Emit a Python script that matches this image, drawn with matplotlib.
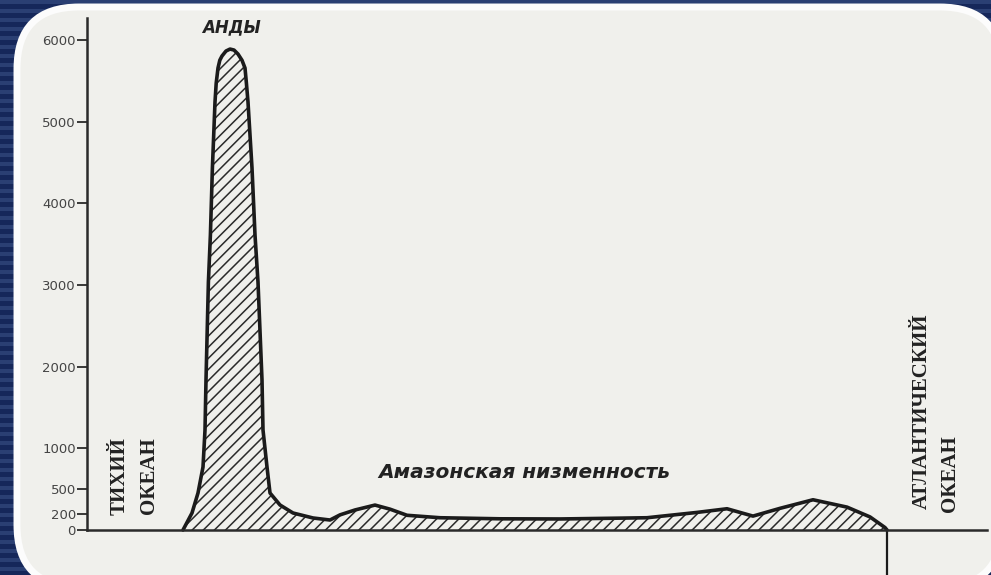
import numpy as np
import matplotlib
matplotlib.use("Agg")
import matplotlib.pyplot as plt
from matplotlib.patches import FancyBboxPatch, Rectangle

# ---- data (distance along profile, km-ish units; elevation, m) ----
dist = [480, 525, 555, 580, 590, 595, 607, 617, 627, 640, 646, 655, 664, 675, 695, 715,
        735, 755, 775, 790, 797, 805, 825, 840, 855, 875, 880, 900, 915, 965, 1030, 1130,
        1215, 1265, 1340, 1440, 1515, 1600, 1765, 2065, 2365, 2665, 2800, 3050,
        3200, 3330, 3465, 3630, 3800, 3915, 3990, 4000]
elev = [0, 208, 453, 771, 1224, 1836, 3035, 3611, 4431, 5239, 5470, 5655, 5750, 5802,
        5863, 5887, 5875, 5826, 5750, 5655, 5470, 5239, 4431, 3611, 3035, 1836, 1224,
        771, 453, 306, 208, 147,
        122, 185, 245, 305, 255, 180, 150, 137, 135, 145, 150, 215,
        260, 170, 265, 370, 280, 160, 30, 0]

yticks = [0, 200, 500, 1000, 2000, 3000, 4000, 5000, 6000]
ytick_labels = ["0", "200", "500", "1000", "2000", "3000", "4000", "5000", "6000"]

W, H = 991, 575
fig = plt.figure(figsize=(W / 100, H / 100), dpi=100)
fig.patch.set_facecolor("#15275a")

# ---- background: striped navy + rounded paper panel ----
bg = fig.add_axes([0, 0, 1, 1], zorder=0)
bg.set_xlim(0, W)
bg.set_ylim(H, 0)
bg.axis("off")
for yy in np.arange(0, H, 9):
    bg.add_patch(Rectangle((0, yy), W, 4, facecolor="#2a3f73", edgecolor="none"))
panel = FancyBboxPatch((17, 7), 985, 580,
                       boxstyle="round,pad=0,rounding_size=62",
                       facecolor="#f0f0ec", edgecolor="#fcfcfc", linewidth=5)
bg.add_patch(panel)

# ---- main axes ----
x_left_px, x_right_px = 87, 987
top_px = 15
ax = fig.add_axes([x_left_px / W, 0, (x_right_px - x_left_px) / W, (H - top_px) / H],
                  zorder=1)
ax.patch.set_alpha(0)
ax.set_xlim(0, 4500)
ax.set_ylim(-551, 6304)

plt.rcParams["hatch.linewidth"] = 1.1
ax.fill_between(dist, elev, 0, facecolor="none", edgecolor="#2a2a2a",
                hatch="///", linewidth=0)
ax.plot(dist, elev, color="#1b1b1b", lw=2.6, solid_capstyle="round",
        solid_joinstyle="round")
# coastline vertical line at the Atlantic end
ax.plot([dist[-1], dist[-1]], [0, -700], color="#1b1b1b", lw=1.6)

for s in ["top", "right"]:
    ax.spines[s].set_visible(False)
ax.spines["bottom"].set_position(("data", 0))
ax.spines["bottom"].set_color("#2a2a2a")
ax.spines["bottom"].set_linewidth(1.8)
ax.spines["left"].set_bounds(0, 6270)
ax.spines["left"].set_color("#2a2a2a")
ax.spines["left"].set_linewidth(1.8)
ax.set_xticks([])
ax.set_yticks(yticks)
ax.set_yticklabels(ytick_labels)
ax.tick_params(axis="y", direction="out", length=7, width=1.3, color="#2a2a2a",
               labelsize=9.5, labelcolor="#444444", pad=1)

# ---- labels ----
ax.text(720, 6150, "АНДЫ", ha="center", va="center", fontsize=12,
        fontweight="bold", style="italic", color="#222222", family="DejaVu Sans")
ax.text(2185, 700, "Амазонская низменность", ha="center", va="center",
        fontsize=14.5, fontweight="bold", style="italic", color="#222222",
        family="DejaVu Sans")
ax.text(165, 660, "ТИХИЙ", rotation=90, ha="center", va="center", fontsize=15,
        fontweight="bold", color="#222222", family="Liberation Serif")
ax.text(310, 660, "ОКЕАН", rotation=90, ha="center", va="center", fontsize=15,
        fontweight="bold", color="#222222", family="Liberation Serif")
ax.text(4175, 1450, "АТЛАНТИЧЕСКИЙ", rotation=90, ha="center", va="center",
        fontsize=15, fontweight="bold", color="#222222", family="Liberation Serif")
ax.text(4315, 690, "ОКЕАН", rotation=90, ha="center", va="center", fontsize=15,
        fontweight="bold", color="#222222", family="Liberation Serif")

fig.savefig("out.png", dpi=100, facecolor=fig.get_facecolor())
